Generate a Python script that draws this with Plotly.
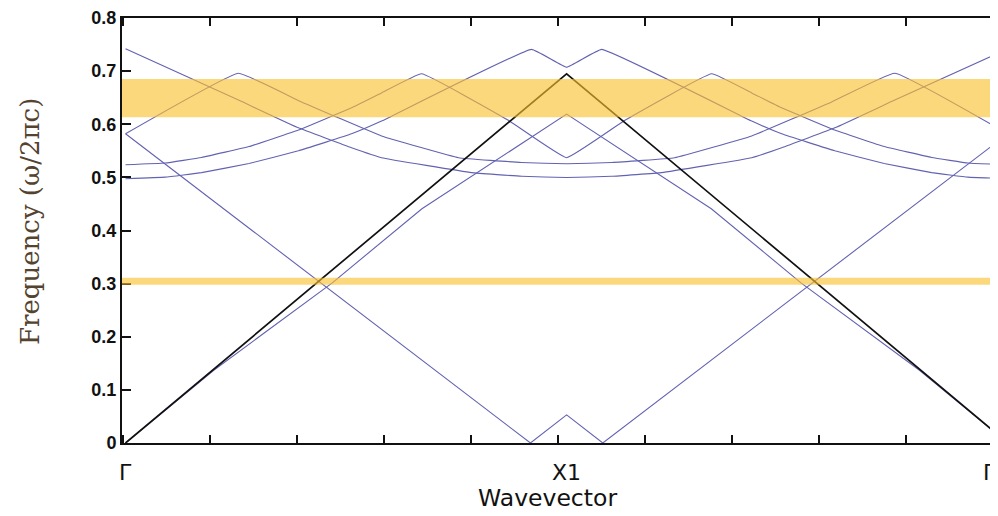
import plotly.graph_objects as go

# Wavevector coordinate: 0 = Γ, 0.5 = X1, 1 = Γ
black_k = [0, 0.5, 1]
black_f = [0, 0.695, 0]

b_k = [0, 0.1, 0.234, 0.336, 0.5, 0.664, 0.766, 0.9, 1]
b_f = [0, 0.137, 0.301, 0.441, 0.619, 0.441, 0.301, 0.137, 0]

c_k = [0, 0.459, 0.5, 0.541, 1]
c_f = [0.582, 0, 0.053, 0, 0.582]

d_k = [0, 0.128, 0.1995, 0.2902, 0.3776, 0.449, 0.5, 0.551, 0.6224, 0.7098, 0.8005, 0.872, 1]
d_f = [0.582, 0.696, 0.642, 0.578, 0.537, 0.528, 0.5256, 0.528, 0.537, 0.578, 0.642, 0.696, 0.582]

e_k = [0, 0.128, 0.196, 0.2562, 0.2902, 0.3923, 0.449, 0.5, 0.551, 0.6077, 0.7098, 0.7438, 0.804, 0.872, 1]
e_f = [0.742, 0.6456, 0.5932, 0.5557, 0.537, 0.509, 0.502, 0.4997, 0.502, 0.509, 0.537, 0.5557, 0.5932, 0.6456, 0.742]

f_k = [0, 0.045, 0.0862, 0.14, 0.196, 0.2562, 0.2902, 0.3356, 0.4339, 0.5,
       0.5661, 0.6644, 0.7098, 0.7438, 0.804, 0.86, 0.9138, 0.955, 1]
f_f = [0.5237, 0.527, 0.5375, 0.558, 0.589, 0.631, 0.659, 0.695, 0.6075, 0.537,
       0.6075, 0.695, 0.659, 0.631, 0.589, 0.558, 0.5375, 0.527, 0.5237]

g_k = [0, 0.045, 0.0862, 0.14, 0.196, 0.2562, 0.2902, 0.4603, 0.5, 0.5397,
       0.7098, 0.7438, 0.804, 0.86, 0.9138, 0.955, 1]
g_f = [0.4975, 0.5005, 0.509, 0.526, 0.55, 0.582, 0.606, 0.741, 0.7074, 0.741,
       0.606, 0.582, 0.55, 0.526, 0.509, 0.5005, 0.4975]

gap_bands = [(0.613, 0.685), (0.298, 0.311)]

tick_k = [-0.0028, 0.0958, 0.1944, 0.2931, 0.3917, 0.4904, 0.5890, 0.6877, 0.7863, 0.8850, 0.9836]
y_ticks = [0, 0.1, 0.2, 0.3, 0.4, 0.5, 0.6, 0.7, 0.8]
y_tick_text = ["0", "0.1", "0.2", "0.3", "0.4", "0.5", "0.6", "0.7", "0.8"]

BLUE = "#6262b2"
fig = go.Figure()
for k, f in [(b_k, b_f), (c_k, c_f)]:
    fig.add_trace(go.Scatter(x=k, y=f, mode="lines", line=dict(color=BLUE, width=1.1),
                             showlegend=False, hoverinfo="skip"))
for k, f in [(d_k, d_f), (e_k, e_f), (f_k, f_f), (g_k, g_f)]:
    fig.add_trace(go.Scatter(x=k, y=f, mode="lines",
                             line=dict(color=BLUE, width=1.1, shape="spline", smoothing=0.25),
                             showlegend=False, hoverinfo="skip"))
fig.add_trace(go.Scatter(x=black_k, y=black_f, mode="lines", line=dict(color="#111111", width=1.7),
                         showlegend=False, hoverinfo="skip"))

for lo, hi in gap_bands:
    fig.add_shape(type="rect", xref="paper", x0=0, x1=1, yref="y", y0=lo, y1=hi,
                  fillcolor="rgb(250,192,45)", opacity=0.62, line=dict(width=0), layer="above")

lab_font = dict(family="DejaVu Sans", size=22, color="#111111")
fig.add_annotation(x=0.0, xref="x", y=-0.07, yref="paper", text="Γ", showarrow=False,
                   xanchor="center", yanchor="middle", font=lab_font)
fig.add_annotation(x=0.5, xref="x", y=-0.07, yref="paper", text="X1", showarrow=False,
                   xanchor="center", yanchor="middle", font=lab_font)
fig.add_annotation(x=1.0, xref="paper", y=-0.07, yref="paper", text="Γ", showarrow=False,
                   xanchor="right", yanchor="middle", font=lab_font)
fig.add_annotation(x=(547 - 122) / 876, xref="paper", y=-0.13, yref="paper", text="Wavevector",
                   showarrow=False, xanchor="center", yanchor="middle",
                   font=dict(family="DejaVu Sans", size=23.5, color="#111111"))
fig.add_annotation(x=-0.105, xref="paper", y=0.52, yref="paper", text="Frequency (ω/2πc)",
                   showarrow=False, textangle=-90, xanchor="center", yanchor="middle",
                   font=dict(family="DejaVu Serif", size=26, color="#54432f"))

fig.update_xaxes(range=[-0.004, 0.989], showgrid=False, zeroline=False, showline=True,
                 linecolor="#111111", linewidth=2, mirror="ticks", ticks="inside", ticklen=8,
                 tickwidth=1.6, tickcolor="#111111", tickmode="array", tickvals=tick_k,
                 showticklabels=False)
fig.update_yaxes(range=[0, 0.8], showgrid=False, zeroline=False, showline=True,
                 linecolor="#111111", linewidth=2, ticks="inside", ticklen=9, tickwidth=1.6,
                 tickcolor="#111111", tickmode="array", tickvals=y_ticks, ticktext=y_tick_text,
                 ticklabeloverflow="allow",
                 tickfont=dict(family="Liberation Sans", size=18, color="#111111", weight="bold"))
# page body has an 8px default margin, so the figure is 8px smaller on each side
fig.update_layout(width=990, height=508, margin=dict(l=114, r=0, t=8, b=73),
                  plot_bgcolor="white", paper_bgcolor="white")
fig.write_html("out.html")
